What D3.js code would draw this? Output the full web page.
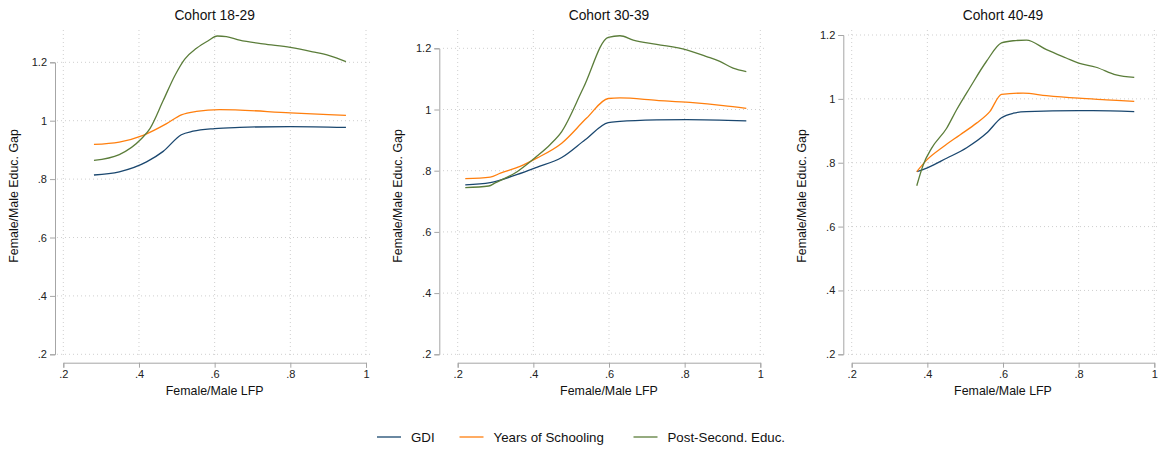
<!DOCTYPE html>
<html>
<head>
<meta charset="utf-8">
<script src="https://cdn.jsdelivr.net/npm/d3@7"></script>
<style>
  body { margin: 0; background: #fff; }
  svg { font-family: "Liberation Sans", Arial, sans-serif; }
  .grid line { stroke: #cfcfcf; stroke-dasharray: 1 3; stroke-width: 1; }
  .axis path, .axis line { stroke: #a6a6a6; }
  .axis text { fill: #222; font-size: 11px; }
</style>
</head>
<body>
<svg id="chart" width="1159" height="450"></svg>
<script>
// cohort titles
const cohorts = ['Cohort 18-29', 'Cohort 30-39', 'Cohort 40-49'];
const seriesNames = ['GDI', 'Years of Schooling', 'Post-Second. Educ.'];
const seriesColors = ['#1a476f', '#ff7f0e', '#5b7d3a'];
const xTicks = [0.2, 0.4, 0.6, 0.8, 1];
const yTicks = [0.2, 0.4, 0.6, 0.8, 1, 1.2];

// [female/male LFP, female/male educ. gap]
const gdi1829 = [[0.281,0.814],[0.348,0.825],[0.420,0.859],[0.464,0.895],[0.512,0.952],[0.543,0.964],[0.600,0.973],[0.666,0.977],[0.800,0.980],[0.947,0.977]];
const yrs1829 = [[0.281,0.919],[0.348,0.927],[0.411,0.950],[0.473,0.990],[0.512,1.020],[0.552,1.032],[0.613,1.038],[0.800,1.027],[0.947,1.018]];
const post1829 = [[0.281,0.864],[0.348,0.884],[0.407,0.939],[0.429,0.973],[0.464,1.069],[0.495,1.155],[0.521,1.211],[0.552,1.248],[0.583,1.274],[0.607,1.290],[0.631,1.288],[0.666,1.276],[0.728,1.263],[0.800,1.251],[0.859,1.236],[0.903,1.223],[0.947,1.202]];

const gdi3039 = [[0.220,0.754],[0.286,0.761],[0.356,0.787],[0.409,0.811],[0.475,0.843],[0.537,0.901],[0.598,0.957],[0.629,0.961],[0.726,0.966],[0.805,0.967],[0.963,0.963]];
const yrs3039 = [[0.220,0.774],[0.286,0.779],[0.313,0.792],[0.365,0.814],[0.409,0.841],[0.475,0.890],[0.541,0.972],[0.598,1.036],[0.629,1.038],[0.726,1.030],[0.814,1.023],[0.902,1.013],[0.963,1.004]];
const post3039 = [[0.220,0.745],[0.282,0.750],[0.299,0.760],[0.356,0.796],[0.409,0.847],[0.444,0.885],[0.475,0.928],[0.532,1.070],[0.598,1.236],[0.629,1.241],[0.664,1.227],[0.726,1.213],[0.805,1.195],[0.858,1.173],[0.893,1.157],[0.928,1.135],[0.963,1.124]];

const gdi4049 = [[0.372,0.772],[0.400,0.784],[0.451,0.814],[0.504,0.847],[0.556,0.892],[0.596,0.941],[0.627,0.955],[0.662,0.960],[0.800,0.963],[0.838,0.963],[0.947,0.960]];
const yrs4049 = [[0.372,0.772],[0.398,0.808],[0.442,0.850],[0.486,0.887],[0.530,0.924],[0.565,0.960],[0.596,1.014],[0.653,1.018],[0.715,1.010],[0.800,1.002],[0.873,0.997],[0.947,0.992]];
const post4049 = [[0.372,0.728],[0.389,0.793],[0.411,0.845],[0.451,0.908],[0.477,0.965],[0.512,1.034],[0.556,1.117],[0.596,1.175],[0.627,1.182],[0.662,1.184],[0.715,1.154],[0.767,1.128],[0.800,1.112],[0.846,1.099],[0.899,1.075],[0.947,1.067]];

const cohortData = [
  [gdi1829, yrs1829, post1829],
  [gdi3039, yrs3039, post3039],
  [gdi4049, yrs4049, post4049]
];

// panel layout (pixel placement of each sub-graph)
const panels = [
  { yAxisX: 55,    x0: 63.3,  x1: 366,    y12: 62.3, gx0: 57,  gx1: 372 },
  { yAxisX: 439.3, x0: 457.7, x1: 760.3,  y12: 48.3, gx0: 443, gx1: 766 },
  { yAxisX: 843.3, x0: 851.7, x1: 1154.3, y12: 35,   gx0: 848, gx1: 1157 }
];
const yBottom = 354.3, xAxisY = 362.7, gridTop = 30, gridBottom = 358;

const svg = d3.select('#chart');
const fmt = d => d === 1 ? '1' : String(d).replace(/^0/, '');

panels.forEach((p, i) => {
  const x = d3.scaleLinear().domain([0.2, 1]).range([p.x0, p.x1]);
  const y = d3.scaleLinear().domain([0.2, 1.2]).range([yBottom, p.y12]);
  const g = svg.append('g');

  // grid
  const grid = g.append('g').attr('class', 'grid');
  grid.selectAll('.h').data(yTicks).join('line')
    .attr('x1', p.gx0).attr('x2', p.gx1)
    .attr('y1', d => y(d)).attr('y2', d => y(d));
  grid.selectAll('.v').data(xTicks).join('line')
    .attr('x1', d => x(d)).attr('x2', d => x(d))
    .attr('y1', gridTop).attr('y2', gridBottom);

  // axes
  g.append('g').attr('class', 'axis')
    .attr('transform', `translate(0,${xAxisY})`)
    .call(d3.axisBottom(x).tickValues(xTicks).tickFormat(fmt).tickSizeOuter(0).tickSize(5).tickPadding(3));
  g.append('g').attr('class', 'axis')
    .attr('transform', `translate(${p.yAxisX},0)`)
    .call(d3.axisLeft(y).tickValues(yTicks).tickFormat(fmt).tickSizeOuter(0).tickSize(5).tickPadding(3));

  // lines
  const line = d3.line().x(d => x(d[0])).y(d => y(d[1])).curve(d3.curveMonotoneX);
  cohortData[i].forEach((s, j) => {
    g.append('path').datum(s)
      .attr('fill', 'none')
      .attr('stroke', seriesColors[j])
      .attr('stroke-width', 1.3)
      .attr('d', line);
  });

  // titles
  const cx = (p.x0 + p.x1) / 2;
  g.append('text').attr('x', cx).attr('y', 20)
    .attr('text-anchor', 'middle').attr('font-size', 13.8).attr('fill', '#111')
    .text(cohorts[i]);
  g.append('text').attr('x', cx).attr('y', 395)
    .attr('text-anchor', 'middle').attr('font-size', 12.4).attr('fill', '#111')
    .text('Female/Male LFP');
  const ty = 196, tx = p.yAxisX - 37;
  g.append('text').attr('transform', `translate(${tx},${ty}) rotate(-90)`)
    .attr('text-anchor', 'middle').attr('font-size', 12.4).attr('fill', '#111')
    .text('Female/Male Educ. Gap');
});

// legend
const legendX = [377, 459.5, 633.5];
const legend = svg.append('g').attr('transform', 'translate(0,437)');
seriesNames.forEach((name, j) => {
  legend.append('line')
    .attr('x1', legendX[j]).attr('x2', legendX[j] + 24)
    .attr('y1', 0).attr('y2', 0)
    .attr('stroke', seriesColors[j]).attr('stroke-width', 1.3);
  legend.append('text')
    .attr('x', legendX[j] + 34).attr('y', 4.5)
    .attr('font-size', 13.3).attr('fill', '#111')
    .text(name);
});
</script>
</body>
</html>
